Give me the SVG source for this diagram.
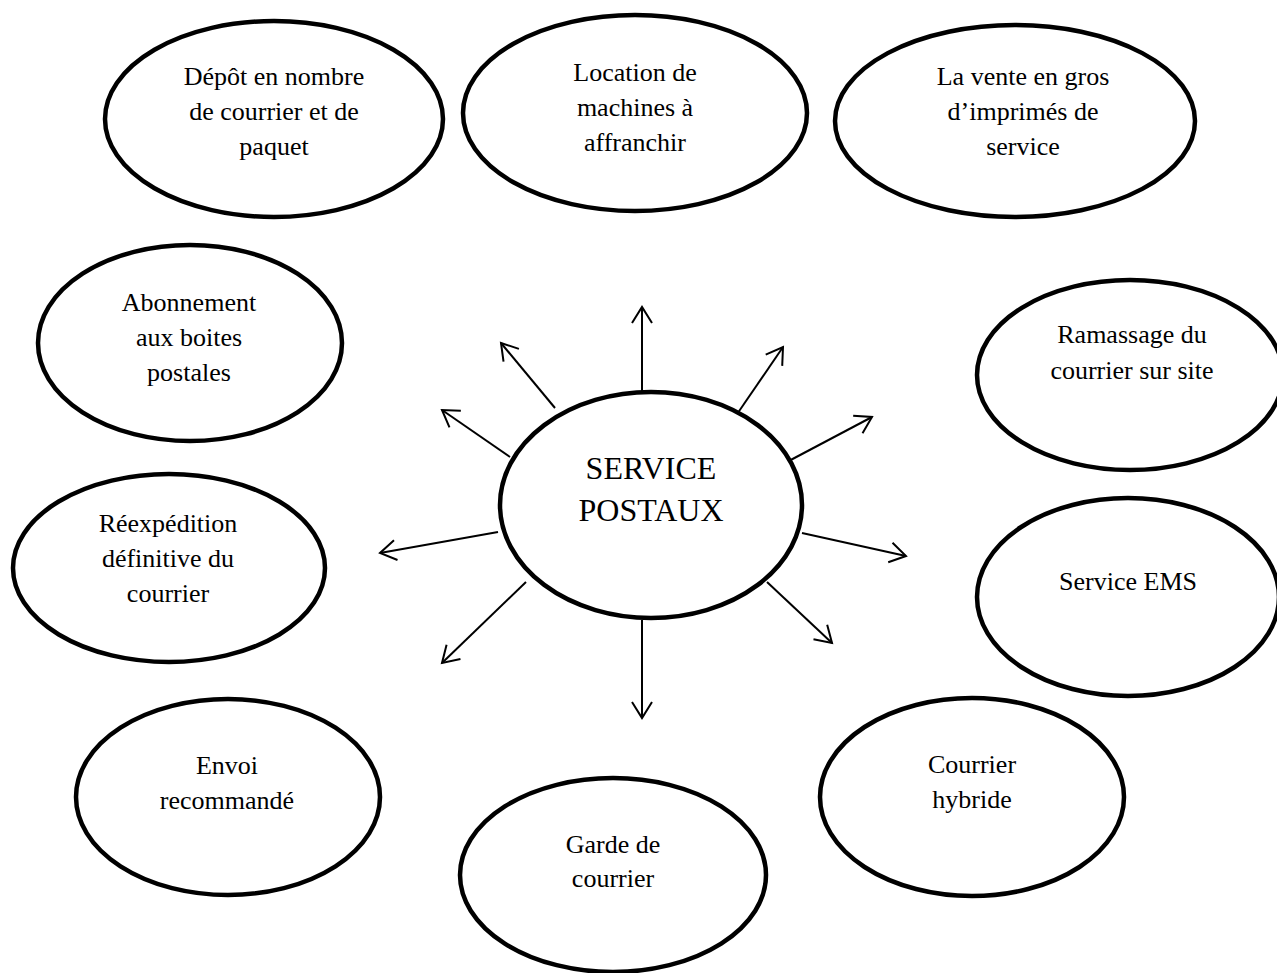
<svg xmlns="http://www.w3.org/2000/svg" width="1277" height="973" viewBox="0 0 1277 973">
<style>
.n{fill:#fff;stroke:#000;stroke-width:4.5}
.t{font-family:"Liberation Serif","Times New Roman",serif;font-size:26px;fill:#000;text-anchor:middle}
.tc{font-family:"Liberation Serif","Times New Roman",serif;font-size:32px;fill:#000;text-anchor:middle}
.c{stroke:#000;stroke-width:2;fill:none;marker-end:url(#ah)}
</style>
<defs>
<marker id="ah" markerUnits="userSpaceOnUse" viewBox="-19 -12 22 24" markerWidth="22" markerHeight="24" refX="0" refY="0" orient="auto">
<path d="M-16,-10 L0,0 L-16,10" fill="none" stroke="#000" stroke-width="2"/>
</marker>
</defs>
<rect width="1277" height="973" fill="#fff"/>
<g id="connectors">
<line class="c" x1="642" y1="395" x2="642" y2="307"/>
<line class="c" x1="555" y1="408" x2="501" y2="343"/>
<line class="c" x1="510" y1="457" x2="442" y2="410"/>
<line class="c" x1="498" y1="532" x2="380" y2="553"/>
<line class="c" x1="526" y1="582" x2="442" y2="663"/>
<line class="c" x1="642" y1="620" x2="642" y2="718"/>
<line class="c" x1="767" y1="582" x2="832" y2="643"/>
<line class="c" x1="802" y1="533" x2="906" y2="556"/>
<line class="c" x1="785" y1="463" x2="872" y2="417"/>
<line class="c" x1="733" y1="420" x2="783" y2="347"/>
</g>
<g id="depot">
<ellipse class="n" cx="274" cy="119" rx="169" ry="98"/>
<text class="t" x="274" y="85">Dépôt en nombre</text>
<text class="t" x="274" y="120">de courrier et de</text>
<text class="t" x="274" y="155">paquet</text>
</g>
<g id="location">
<ellipse class="n" cx="635" cy="113" rx="172" ry="98"/>
<text class="t" x="635" y="81">Location de</text>
<text class="t" x="635" y="116">machines à</text>
<text class="t" x="635" y="151">affranchir</text>
</g>
<g id="vente">
<ellipse class="n" cx="1015" cy="121" rx="180" ry="96"/>
<text class="t" x="1023" y="85">La vente en gros</text>
<text class="t" x="1023" y="120">d’imprimés de</text>
<text class="t" x="1023" y="155">service</text>
</g>
<g id="abonnement">
<ellipse class="n" cx="190" cy="343" rx="152" ry="98"/>
<text class="t" x="189" y="311">Abonnement</text>
<text class="t" x="189" y="346">aux boites</text>
<text class="t" x="189" y="381">postales</text>
</g>
<g id="ramassage">
<ellipse class="n" cx="1130" cy="375" rx="153" ry="95"/>
<text class="t" x="1132" y="343">Ramassage du</text>
<text class="t" x="1132" y="379">courrier sur site</text>
</g>
<g id="service-postaux">
<ellipse class="n" cx="651" cy="505" rx="151" ry="113"/>
<text class="tc" x="651" y="479">SERVICE</text>
<text class="tc" x="651" y="521">POSTAUX</text>
</g>
<g id="reexpedition">
<ellipse class="n" cx="169" cy="568" rx="156" ry="94"/>
<text class="t" x="168" y="532">Réexpédition</text>
<text class="t" x="168" y="567">définitive du</text>
<text class="t" x="168" y="602">courrier</text>
</g>
<g id="ems">
<ellipse class="n" cx="1128" cy="597" rx="151" ry="99"/>
<text class="t" x="1128" y="590">Service EMS</text>
</g>
<g id="envoi">
<ellipse class="n" cx="228" cy="797" rx="152" ry="98"/>
<text class="t" x="227" y="774">Envoi</text>
<text class="t" x="227" y="809">recommandé</text>
</g>
<g id="hybride">
<ellipse class="n" cx="972" cy="797" rx="152" ry="99"/>
<text class="t" x="972" y="773">Courrier</text>
<text class="t" x="972" y="808">hybride</text>
</g>
<g id="garde">
<ellipse class="n" cx="613" cy="875" rx="153" ry="97"/>
<text class="t" x="613" y="853">Garde de</text>
<text class="t" x="613" y="887">courrier</text>
</g>
</svg>
